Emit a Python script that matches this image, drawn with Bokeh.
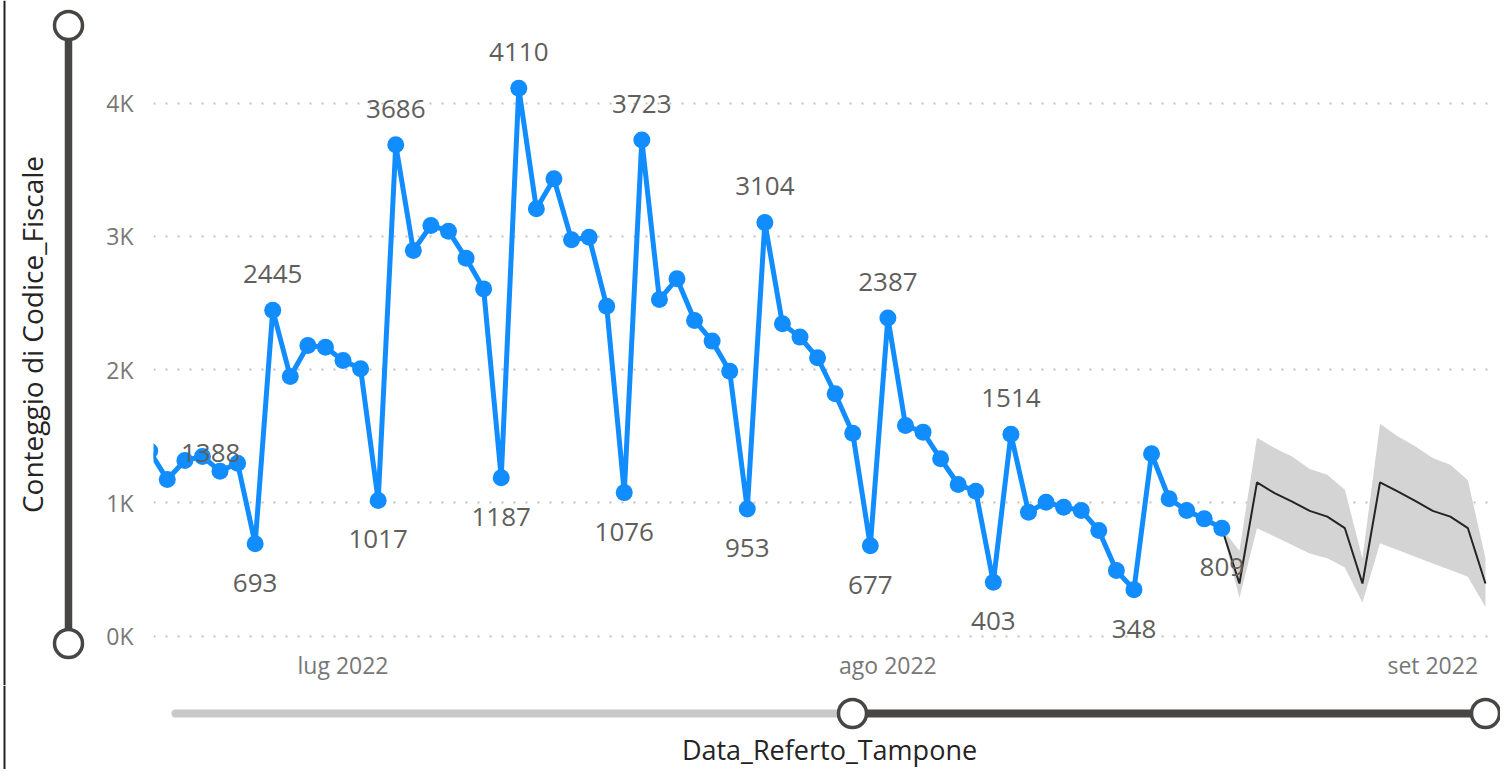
import numpy as np
import pandas as pd
from bokeh.plotting import figure
from bokeh.models import (Range1d, FixedTicker, CustomJSTickFormatter, ColumnDataSource)
from bokeh.layouts import column, row
from bokeh.embed import file_html
from bokeh.resources import INLINE
from bokeh.core.properties import value

# ---------------- data ----------------
start_date = "2022-06-20"
counts = [1388, 1174, 1317, 1347, 1237, 1297, 693, 2445, 1947, 2180, 2167, 2068, 2005,
          1017, 3686, 2893, 3081, 3038, 2835, 2605, 1187, 4110, 3206, 3431, 2973, 2993,
          2475, 1076, 3723, 2525, 2681, 2368, 2213, 1987, 953, 3104, 2343, 2243, 2088,
          1818, 1522, 677, 2387, 1580, 1530, 1330, 1137, 1087, 403, 1514, 929, 1004, 967,
          942, 792, 492, 348, 1367, 1030, 942, 879, 809]

forecast_start = "2022-08-21"
forecast_mid = [394, 1153, 1072, 1009, 939, 896, 809, 394, 1153, 1085, 1014, 939, 896, 809, 394]
forecast_upper = [640, 1487, 1411, 1348, 1253, 1210, 1097, 583, 1592, 1499, 1424, 1336, 1286, 1168, 583]
forecast_lower = [286, 809, 746, 683, 620, 583, 515, 249, 696, 645, 595, 545, 495, 444, 218]

labeled_dates = ["2022-06-20", "2022-06-26", "2022-06-27", "2022-07-03", "2022-07-04",
                 "2022-07-10", "2022-07-11", "2022-07-17", "2022-07-18", "2022-07-24",
                 "2022-07-25", "2022-07-31", "2022-08-01", "2022-08-07", "2022-08-08",
                 "2022-08-15", "2022-08-20"]

month_ticks = ["2022-07-01", "2022-08-01", "2022-09-01"]
month_names = ["gen", "feb", "mar", "apr", "mag", "giu", "lug", "ago", "set", "ott", "nov", "dic"]
y_ticks = [0, 1000, 2000, 3000, 4000]

y_title = "Conteggio di Codice_Fiscale"
x_title = "Data_Referto_Tampone"

# ---------------- derived ----------------
dates = pd.date_range(start_date, periods=len(counts), freq="D")
fc_dates = pd.date_range(forecast_start, periods=len(forecast_mid), freq="D")

band_x = [dates[-1]] + list(fc_dates)
band_up = [counts[-1]] + forecast_upper
band_lo = [counts[-1]] + forecast_lower
fc_line_y = [counts[-1]] + forecast_mid

lab_x, lab_y, lab_t, lab_dx, lab_dy = [], [], [], [], []
for d in labeled_dates:
    i = int(np.where(dates == pd.Timestamp(d))[0][0])
    lab_x.append(dates[i]); lab_y.append(counts[i]); lab_t.append(str(counts[i]))
    if i == 0:
        lab_dx.append(61); lab_dy.append(2)
    elif counts[i] > counts[i - 1]:
        lab_dx.append(0); lab_dy.append(-36)
    else:
        lab_dx.append(0); lab_dy.append(39)

# ---------------- styles ----------------
BLUE = "#118DFF"
DARK = "#484644"
TXT = "#252423"
LABEL = "#605E5C"
TICK = "#777777"
FONT = "Open Sans"

LEFT_W = 95
MAIN_W = 1405
MAIN_H = 685
BOT_H = 84
PX_PER_DAY = 17.576
PX_PER_UNIT = 0.13325
MB_L, MB_R, MB_T, MB_B = 58, 5, 0, 0
ZERO_PX = 635.5          # screen y of the 0 line

frame_left_off = 3.8     # px between first date and frame left
frame_w = MAIN_W - MB_L - MB_R
frame_h = MAIN_H - MB_T - MB_B
frame_bottom = MAIN_H - MB_B
x0 = dates[0] + pd.Timedelta(days=frame_left_off / PX_PER_DAY)
x1 = x0 + pd.Timedelta(days=frame_w / PX_PER_DAY)
y0 = (ZERO_PX - frame_bottom) / PX_PER_UNIT
y1 = y0 + frame_h / PX_PER_UNIT

p = figure(width=MAIN_W, height=MAIN_H, x_axis_type="datetime",
           x_range=Range1d(x0, x1), y_range=Range1d(y0, y1),
           output_backend="svg", toolbar_location=None,
           min_border_left=MB_L, min_border_right=MB_R, min_border_top=MB_T, min_border_bottom=MB_B)
p.outline_line_color = None
p.background_fill_color = "white"
p.border_fill_color = "white"

# grid
p.xgrid.grid_line_color = None
p.ygrid.grid_line_color = "#c2c2c2"
p.ygrid.grid_line_dash = "2 10"
p.ygrid.grid_line_width = 2

# axes
p.yaxis.ticker = FixedTicker(ticks=y_ticks)
p.yaxis.formatter = CustomJSTickFormatter(code="return (tick/1000) + 'K';")
p.xaxis.ticker = FixedTicker(ticks=[pd.Timestamp(t).value / 1e6 for t in month_ticks])
p.xaxis.formatter = CustomJSTickFormatter(args=dict(names=month_names),
    code="const d = new Date(tick); return names[d.getUTCMonth()] + ' ' + d.getUTCFullYear();")
for ax in (p.xaxis, p.yaxis):
    ax.axis_line_color = None
    ax.major_tick_line_color = None
    ax.minor_tick_line_color = None
    ax.major_tick_out = 0
    ax.minor_tick_out = 0
    ax.major_label_text_color = TICK
    ax.major_label_text_font = FONT
    ax.major_label_text_font_size = "23px"
p.yaxis.major_label_standoff = 20
p.xaxis.major_label_standoff = -37

# forecast band + line
p.varea(x=band_x, y1=band_lo, y2=band_up, fill_color="#d4d4d4", fill_alpha=1.0)
p.line(x=band_x, y=fc_line_y, line_color=TXT, line_width=2)

# actual series
p.line(x=dates, y=counts, line_color=BLUE, line_width=5)
p.scatter(x=dates, y=counts, size=17, fill_color=BLUE, line_color=None)

# data labels
lsrc = ColumnDataSource(dict(x=lab_x, y=lab_y, t=lab_t, dx=lab_dx, dy=lab_dy))
p.text(x="x", y="y", text="t", x_offset="dx", y_offset="dy", source=lsrc,
       text_align="center", text_baseline="middle", text_color=LABEL,
       text_font=value(FONT), text_font_size="26px")

# ---------------- left decoration: border, y title + vertical zoom slider ----------------
# (its frame is aligned with the main frame: screen y from MB_T to frame_bottom)
left = figure(width=LEFT_W, height=MAIN_H, x_range=Range1d(0, LEFT_W),
              y_range=Range1d(frame_bottom, MB_T),
              output_backend="svg", toolbar_location=None,
              min_border_left=0, min_border_right=0, min_border_top=MB_T, min_border_bottom=MB_B)
left.axis.visible = False
left.grid.visible = False
left.outline_line_color = None
left.border_fill_color = "white"
left.segment(x0=[4], y0=[MB_T], x1=[4], y1=[frame_bottom], line_color="#222222", line_width=2)
left.segment(x0=[68], y0=[25], x1=[68], y1=[643], line_color=DARK, line_width=7.5)
left.scatter(x=[68, 68], y=[25, 643], size=28, fill_color="white", line_color=DARK, line_width=3.5)
left.text(x=[31], y=[334], text=[y_title], angle=np.pi / 2, text_align="center",
          text_baseline="middle", text_color=TXT, text_font=value(FONT), text_font_size="28px")

# ---------------- bottom decoration: border, x title + horizontal zoom slider ----------------
TOT_W = LEFT_W + MAIN_W
bot = figure(width=TOT_W, height=BOT_H, x_range=Range1d(0, TOT_W), y_range=Range1d(BOT_H, 0),
             output_backend="svg", toolbar_location=None,
             min_border=0, min_border_left=0, min_border_right=0, min_border_top=0, min_border_bottom=0)
bot.axis.visible = False
bot.grid.visible = False
bot.outline_line_color = None
bot.border_fill_color = "white"
bot.segment(x0=[4], y0=[0], x1=[4], y1=[BOT_H], line_color="#222222", line_width=2)
bot.segment(x0=[175], y0=[28], x1=[852], y1=[28], line_color="#c8c8c8", line_width=8, line_cap="round")
bot.segment(x0=[852], y0=[28], x1=[1485], y1=[28], line_color=DARK, line_width=8)
bot.scatter(x=[852, 1485], y=[28, 28], size=28, fill_color="white", line_color=DARK, line_width=3.5)
bot.text(x=[829], y=[64], text=[x_title], text_align="center", text_baseline="middle",
         text_color=TXT, text_font=value(FONT), text_font_size="27px")

layout = column(row(left, p, spacing=0), bot, spacing=0)

open("out.html", "w").write(file_html(layout, INLINE))
